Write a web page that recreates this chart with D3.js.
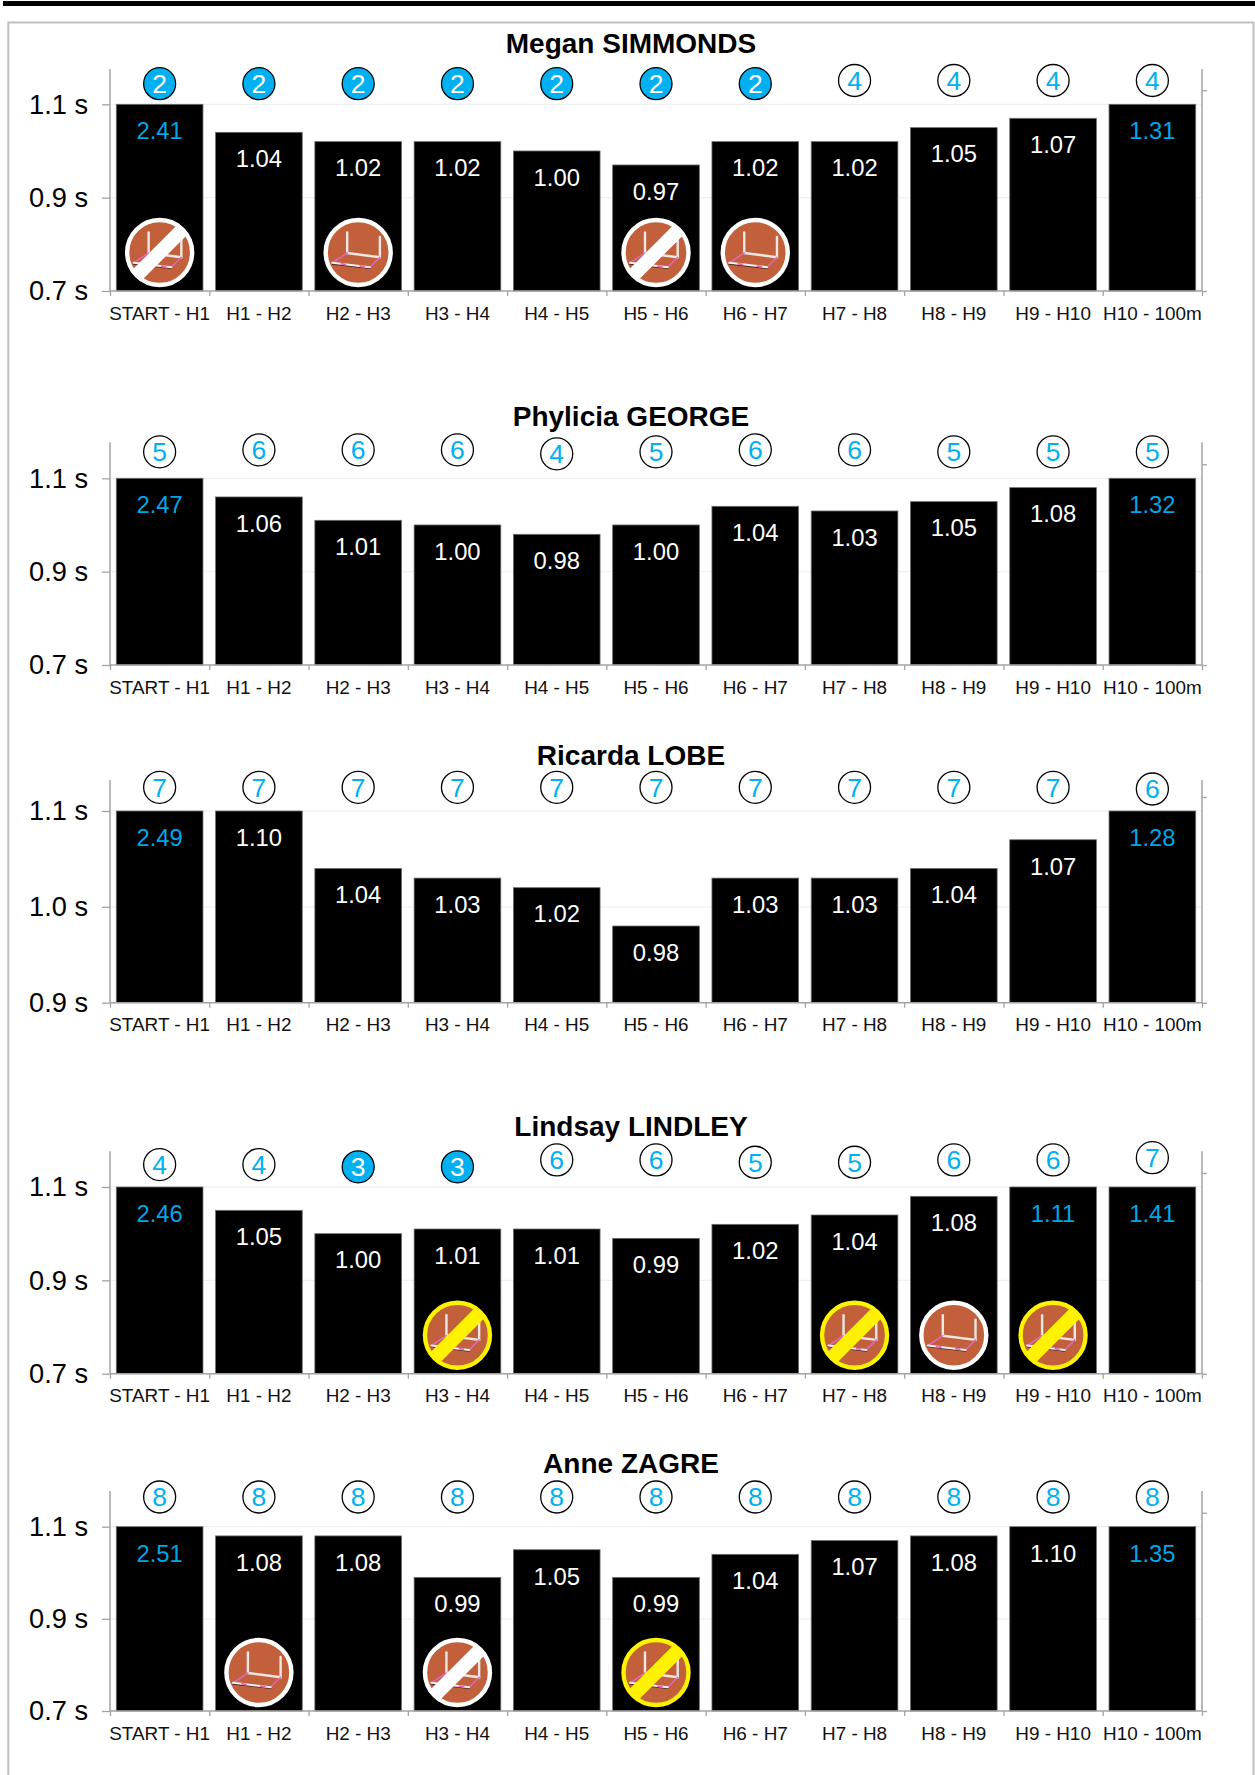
<!DOCTYPE html>
<html><head><meta charset="utf-8">
<script src="https://cdn.jsdelivr.net/npm/d3@7/dist/d3.min.js"></script>
<style>html,body{margin:0;padding:0;background:#fff}svg{display:block}text{font-family:"Liberation Sans",Arial,sans-serif}</style>
</head><body><div id="c"></div>
<script>
const categories = ["START - H1","H1 - H2","H2 - H3","H3 - H4","H4 - H5","H5 - H6","H6 - H7","H7 - H8","H8 - H9","H9 - H10","H10 - 100m"];
const athletes = ["Megan SIMMONDS","Phylicia GEORGE","Ricarda LOBE","Lindsay LINDLEY","Anne ZAGRE"];
const splitsSimmonds = [2.41,1.04,1.02,1.02,1.00,0.97,1.02,1.02,1.05,1.07,1.31];
const splitsGeorge   = [2.47,1.06,1.01,1.00,0.98,1.00,1.04,1.03,1.05,1.08,1.32];
const splitsLobe     = [2.49,1.10,1.04,1.03,1.02,0.98,1.03,1.03,1.04,1.07,1.28];
const splitsLindley  = [2.46,1.05,1.00,1.01,1.01,0.99,1.02,1.04,1.08,1.11,1.41];
const splitsZagre    = [2.51,1.08,1.08,0.99,1.05,0.99,1.04,1.07,1.08,1.10,1.35];
const ranksSimmonds = [2,2,2,2,2,2,2,4,4,4,4];
const ranksGeorge   = [5,6,6,6,4,5,6,6,5,5,5];
const ranksLobe     = [7,7,7,7,7,7,7,7,7,7,6];
const ranksLindley  = [4,4,3,3,6,6,5,5,6,6,7];
const ranksZagre    = [8,8,8,8,8,8,8,8,8,8,8];
// best-ranked leg(s) that get the filled badge
const filledRankSimmonds = 2, filledRankLindley = 3;
// hurdle badges: [category index, ring colour, struck through]
const hurdlesSimmonds = [[0,"white",true],[2,"white",false],[5,"white",true],[6,"white",false]];
const hurdlesGeorge = [];
const hurdlesLobe = [];
const hurdlesLindley = [[3,"yellow",true],[7,"yellow",true],[8,"white",false],[9,"yellow",true]];
const hurdlesZagre = [[1,"white",false],[3,"white",true],[5,"yellow",true]];
const yDomains = [[0.7,1.1],[0.7,1.1],[0.9,1.1],[0.7,1.1],[0.7,1.1]];
const yTicks = [[0.7,0.9,1.1],[0.7,0.9,1.1],[0.9,1.0,1.1],[0.7,0.9,1.1],[0.7,0.9,1.1]];

const allSplits=[splitsSimmonds,splitsGeorge,splitsLobe,splitsLindley,splitsZagre];
const allRanks=[ranksSimmonds,ranksGeorge,ranksLobe,ranksLindley,ranksZagre];
const allHurdles=[hurdlesSimmonds,hurdlesGeorge,hurdlesLobe,hurdlesLindley,hurdlesZagre];
const allFilled=[filledRankSimmonds,null,null,filledRankLindley,null];

// layout per panel
const layout=[
 {top:69,  hi:104.3, lo:291,   titleY:52.5,  rd:[2,4], rr:[83.7,80.5]},
 {top:442.3,hi:478.3,lo:665,   titleY:425.5, rd:[4,6], rr:[453.8,449.8]},
 {top:780, hi:811,  lo:1002.7, titleY:764.5, rd:[6,7], rr:[789,787.3]},
 {top:1151.3,hi:1187,lo:1373.7,titleY:1135.5,rd:[3,7], rr:[1166.8,1157.7]},
 {top:1491,hi:1526.7,lo:1711,  titleY:1472.5,rd:[7,8], rr:[1497,1497]}
];
const L=110,R=1202;
const AX="#a3a3a3",BLUE="#00a6e6",BADGE="#00b0f0";

const svg=d3.select("#c").append("svg").attr("width",1255).attr("height",1775);
svg.append("rect").attr("x",3).attr("y",1).attr("width",1252).attr("height",5).attr("fill","#000");
svg.append("path").attr("d","M8.3,1776V22.6H1253.5V1776").attr("fill","none").attr("stroke","#bfbfbf").attr("stroke-width",2);

const x=d3.scaleBand().domain(categories).range([L,R]).paddingInner(0.127).paddingOuter(0.0635);
const xEdge=d3.scaleLinear().domain([0,categories.length]).range([L,R]);

function hurdle(g,ring,strike){
  const r=32.5, hue=ring==="yellow"?"#fff200":"#fff";
  g.append("circle").attr("r",r).attr("fill","#c2603b").attr("stroke",hue).attr("stroke-width",4.4);
  const seg=(a,b,c,d,col,w)=>g.append("line").attr("x1",a).attr("y1",b).attr("x2",c).attr("y2",d).attr("stroke",col).attr("stroke-width",w).attr("stroke-linecap","round");
  seg(-11,-20,-11,0.5,"#ece8e6",2.4);
  seg(21.7,-15.5,21.7,4.7,"#ece8e6",2.4);
  seg(-11,0.5,21.7,4.7,"#eee6e3",2.4);
  seg(-11,0.5,-26,10.3,"#e266bb",1.5);
  seg(21.7,4.7,11.7,14.7,"#e266bb",1.5);
  seg(-26,11.5,11.7,15.9,"#4a2a22",1.3);
  seg(-26,10.3,11.7,14.7,"#f6eef0",2);
  seg(-17,11.3,-13,11.8,"#e266bb",1.8);
  seg(2,13.6,6,14,"#e266bb",1.8);
  if(strike) g.append("line").attr("x1",-24).attr("y1",24).attr("x2",24).attr("y2",-24)
     .attr("stroke",hue).attr("stroke-width",14);
}

athletes.forEach((name,p)=>{
  const lay=layout[p], vals=allSplits[p], ranks=allRanks[p], filled=allFilled[p];
  const y=d3.scaleLinear().domain(yDomains[p]).range([lay.lo,lay.hi]).clamp(true);
  const rankY=d3.scaleLinear().domain(lay.rd).range(lay.rr);
  const g=svg.append("g");
  g.append("text").attr("x",631).attr("y",lay.titleY).attr("text-anchor","middle")
    .attr("font-size",28).attr("font-weight","bold").attr("fill","#000").text(name);
  // gridlines
  g.append("g").selectAll("line").data(yTicks[p].slice(1)).join("line")
    .attr("x1",L).attr("x2",R).attr("y1",d=>y(d)).attr("y2",d=>y(d)).attr("stroke","#f0f0f0").attr("stroke-width",1.3);
  // bars
  g.append("g").selectAll("rect").data(vals).join("rect")
    .attr("x",(d,i)=>x(categories[i])).attr("width",x.bandwidth())
    .attr("y",d=>y(d)).attr("height",d=>lay.lo-y(d))
    .attr("fill","#000").attr("stroke","#6f6f6f").attr("stroke-width",.8);
  // left axis
  const ya=g.append("g").attr("transform",`translate(${L},0)`)
    .call(d3.axisLeft(y).tickValues(yTicks[p]).tickSize(8).tickPadding(14).tickFormat(d=>d.toFixed(1)+" s"));
  ya.select(".domain").attr("d",`M0,${lay.top}V${lay.lo}`).attr("stroke",AX).attr("stroke-width",1.5);
  ya.selectAll(".tick line").attr("stroke",AX).attr("stroke-width",1.3);
  ya.selectAll(".tick text").attr("font-size",27.2).attr("fill","#000").attr("font-family",'"Liberation Sans"');
  // right axis
  const yr=g.append("g").attr("transform",`translate(${R},0)`)
    .call(d3.axisRight(d3.scaleLinear().domain([0,1]).range([lay.lo,lay.hi-14])).tickValues([0,1]).tickSize(5).tickFormat(""));
  yr.select(".domain").attr("d",`M0,${lay.top}V${lay.lo}`).attr("stroke",AX).attr("stroke-width",1.5);
  yr.selectAll(".tick line").attr("stroke",AX).attr("stroke-width",1.3);
  // bottom axis
  const xt=g.append("g").attr("transform",`translate(0,${lay.lo})`)
    .call(d3.axisBottom(xEdge).tickValues(d3.range(categories.length+1)).tickSize(5).tickFormat(""));
  xt.select(".domain").attr("d",`M${L},0H${R}`).attr("stroke",AX).attr("stroke-width",1.5);
  xt.selectAll(".tick line").attr("stroke",AX).attr("stroke-width",1.3);
  const xl=g.append("g").attr("transform",`translate(0,${lay.lo})`).call(d3.axisBottom(x).tickSize(0).tickPadding(0));
  xl.select(".domain").remove();
  xl.selectAll(".tick text").attr("dy",null).attr("y",28.8).attr("font-size",18.9).attr("fill","#111").attr("font-family",'"Liberation Sans"');
  // value labels
  g.append("g").selectAll("text").data(vals).join("text")
    .attr("x",(d,i)=>x(categories[i])+x.bandwidth()/2).attr("y",d=>y(d)+34.8)
    .attr("text-anchor","middle").attr("font-size",23.8)
    .attr("fill",d=>d>1.1?BLUE:"#fff").text(d=>d.toFixed(2));
  // rank badges
  const b=g.append("g").selectAll("g").data(ranks).join("g")
    .attr("transform",(d,i)=>`translate(${x(categories[i])+x.bandwidth()/2},${rankY(d)})`);
  b.append("circle").attr("r",16).attr("fill",d=>d===filled?BADGE:"#fff").attr("stroke","#000").attr("stroke-width",1.3);
  b.append("text").attr("text-anchor","middle").attr("y",9.4).attr("font-size",26.5)
    .attr("fill",d=>d===filled?"#fff":BADGE).text(d=>d);
  // hurdle icons
  allHurdles[p].forEach(h=>{
    hurdle(g.append("g").attr("transform",`translate(${x(categories[h[0]])+x.bandwidth()/2},${lay.lo-38.5})`),h[1],h[2]);
  });
});
</script></body></html>
